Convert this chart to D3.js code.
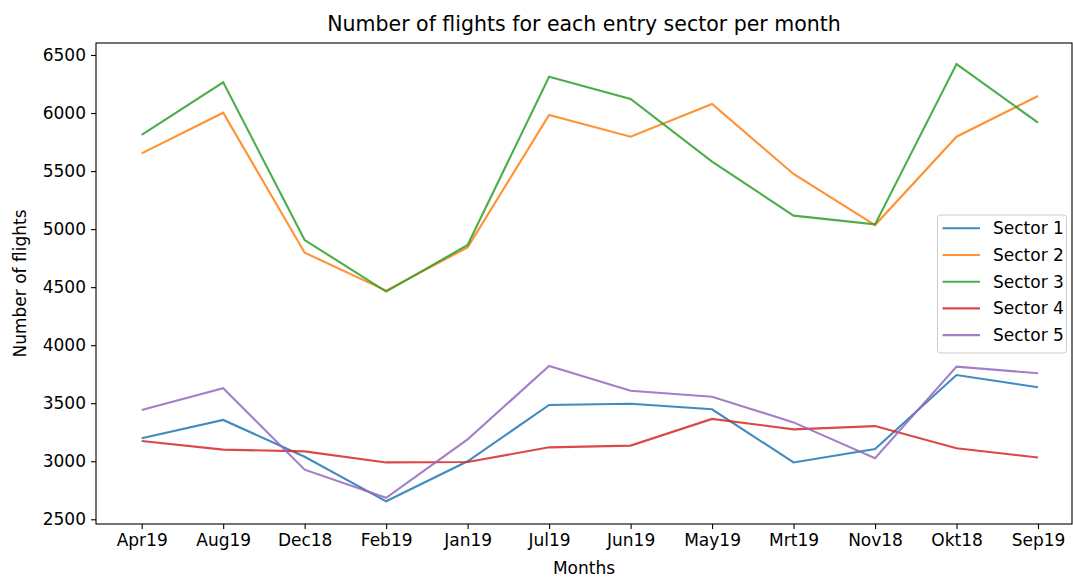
<!DOCTYPE html>
<html>
<head>
<meta charset="utf-8">
<script src="https://cdn.jsdelivr.net/npm/d3@7"></script>
<style>
  body { margin: 0; background: #fff; }
  text { font-family: "DejaVu Sans", sans-serif; fill: #000; }
</style>
</head>
<body>
<script>
var months = ["Apr19", "Aug19", "Dec18", "Feb19", "Jan19", "Jul19", "Jun19", "May19", "Mrt19", "Nov18", "Okt18", "Sep19"];
var sectorNames = ["Sector 1", "Sector 2", "Sector 3", "Sector 4", "Sector 5"];
var sector1 = [3198, 3356, 3039, 2655, 3000, 3485, 3495, 3448, 2990, 3106, 3743, 3637];
var sector2 = [5653, 6003, 4797, 4470, 4843, 5983, 5796, 6078, 5475, 5035, 5796, 6147];
var sector3 = [5811, 6265, 4906, 4462, 4863, 6313, 6121, 5581, 5116, 5041, 6422, 5917];
var sector4 = [3175, 3100, 3085, 2990, 2993, 3120, 3135, 3365, 3275, 3303, 3112, 3032];
var sector5 = [3442, 3629, 2928, 2685, 3189, 3821, 3608, 3556, 3335, 3026, 3815, 3758];
var yTicks = [2500, 3000, 3500, 4000, 4500, 5000, 5500, 6000, 6500];
var colors = ["#1f77b4", "#ff7f0e", "#2ca02c", "#d62728", "#9467bd"];

var series = [sector1, sector2, sector3, sector4, sector5];

var width = 1073, height = 577;
var mLeft = 96, mRight = 1072, mTop = 43, mBottom = 524;

var svg = d3.select("body").append("svg")
    .attr("width", width)
    .attr("height", height);

var x = d3.scaleLinear().domain([0, months.length - 1]).range([141.7, 1038]);
var y = d3.scaleLinear().domain([2500, 6500]).range([519.3, 55]);

var line = d3.line()
  .x(function(d, i){ return x(i); })
  .y(function(d){ return y(d); });

series.forEach(function(s, k){
  svg.append("path")
    .datum(s)
    .attr("fill", "none")
    .attr("stroke", colors[k])
    .attr("stroke-opacity", 0.85)
    .attr("stroke-width", 2.1)
    .attr("stroke-linejoin", "miter")
    .attr("d", line);
});

// frame
svg.append("rect")
  .attr("x", mLeft).attr("y", mTop)
  .attr("width", mRight - mLeft).attr("height", mBottom - mTop)
  .attr("fill", "none").attr("stroke", "#000").attr("stroke-width", 1.1);

var xAxis = svg.append("g")
  .attr("transform", "translate(0," + mBottom + ")")
  .call(d3.axisBottom(x).tickValues(d3.range(months.length))
    .tickFormat(function(i){ return months[i]; })
    .tickSize(5).tickPadding(5));

var yAxis = svg.append("g")
  .attr("transform", "translate(" + mLeft + ",0)")
  .call(d3.axisLeft(y).tickValues(yTicks).tickFormat(d3.format("d"))
    .tickSize(5).tickPadding(5));

[xAxis, yAxis].forEach(function(a){
  a.select(".domain").remove();
  a.selectAll("line").attr("stroke", "#000").attr("stroke-width", 1.1);
  a.selectAll("text").style("font-size", "17px").attr("fill", "#000");
});

svg.append("text")
  .attr("x", (mLeft + mRight) / 2).attr("y", 31)
  .attr("text-anchor", "middle")
  .style("font-size", "20.5px")
  .text("Number of flights for each entry sector per month");

svg.append("text")
  .attr("x", (mLeft + mRight) / 2).attr("y", 574)
  .attr("text-anchor", "middle")
  .style("font-size", "17px")
  .text("Months");

svg.append("text")
  .attr("transform", "translate(26," + ((mTop + mBottom) / 2) + ") rotate(-90)")
  .attr("text-anchor", "middle")
  .style("font-size", "17px")
  .text("Number of flights");

// legend
var legend = svg.append("g");
legend.append("rect")
  .attr("x", 937.5).attr("y", 215)
  .attr("width", 129).attr("height", 138)
  .attr("rx", 3)
  .attr("fill", "#fff").attr("fill-opacity", 0.8)
  .attr("stroke", "#ccc").attr("stroke-width", 1);

var item = legend.selectAll(".item")
  .data(sectorNames)
  .enter().append("g")
  .attr("class", "item")
  .attr("transform", function(d, i){ return "translate(0," + (228.3 + i * 26.7) + ")"; });

item.append("line")
  .attr("x1", 942.5).attr("x2", 980)
  .attr("stroke", function(d, i){ return colors[i]; })
  .attr("stroke-opacity", 0.85)
  .attr("stroke-width", 2.1);

item.append("text")
  .attr("x", 993)
  .attr("dy", "0.35em")
  .style("font-size", "17px")
  .text(function(d){ return d; });
</script>
</body>
</html>
